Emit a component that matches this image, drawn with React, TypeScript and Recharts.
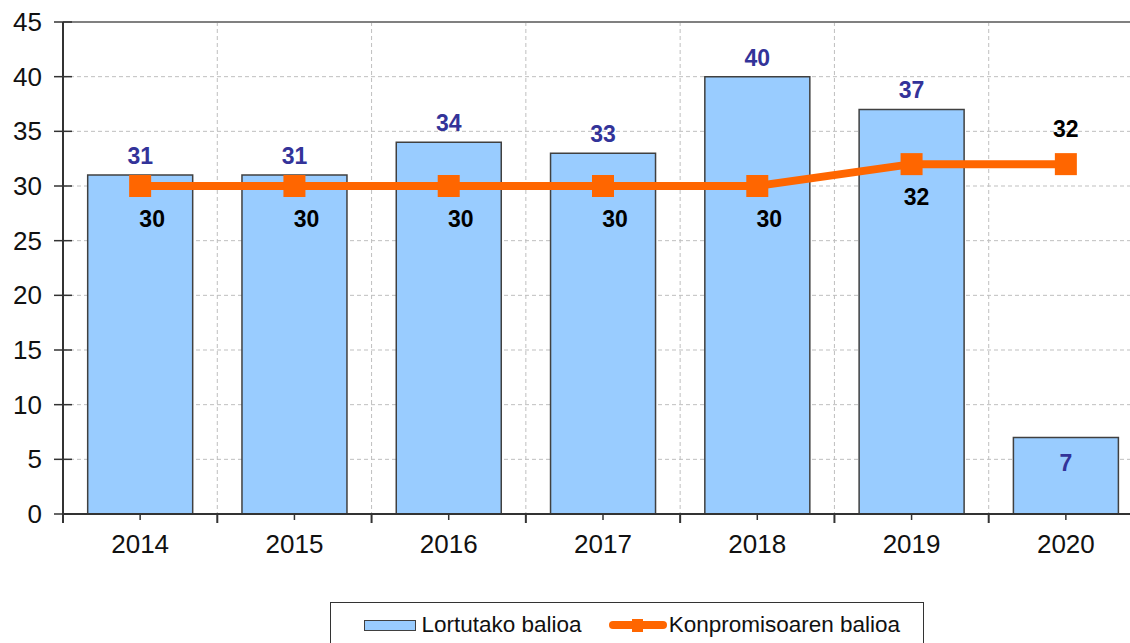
import React from "react";
import {
  ComposedChart,
  Bar,
  Line,
  XAxis,
  YAxis,
  CartesianGrid,
  LabelList,
  Legend,
  ReferenceLine,
} from "recharts";

const YEARS = ["2014", "2015", "2016", "2017", "2018", "2019", "2020"];
const ACHIEVED = [31, 31, 34, 33, 40, 37, 7];
const COMMITTED = [30, 30, 30, 30, 30, 32, 32];
const Y_TICKS = [0, 5, 10, 15, 20, 25, 30, 35, 40, 45];
const SERIES_NAMES = ["Lortutako balioa", "Konpromisoaren balioa"];

const data = YEARS.map((year, i) => ({
  year,
  lortutakoa: ACHIEVED[i],
  konpromisoa: COMMITTED[i],
}));

const ORANGE = "#FF6600";
const BLUE = "#99CCFF";
const AXIS = "#333333";
const FONT = "'Liberation Sans', Arial, sans-serif";

const YTick = ({ x, y, payload }: any) => (
  <g>
    <line x1={x - 9} x2={x + 9} y1={y} y2={y} stroke={AXIS} strokeWidth={1.5} />
    <text x={x - 21} y={y + 9} textAnchor="end" fontSize={26} fill="#111">
      {payload.value}
    </text>
  </g>
);

const XTick = ({ x, y, payload, index, visibleTicksCount }: any) => {
  const half = payload.offset ?? 0;
  return (
    <g>
      <line x1={x} x2={x} y1={y} y2={y + 6} stroke={AXIS} strokeWidth={1.5} />
      {half > 0 && (
        <line x1={x - half} x2={x - half} y1={y} y2={y + 9} stroke={AXIS} strokeWidth={2} />
      )}
      {half > 0 && index === visibleTicksCount - 1 && (
        <line x1={x + half} x2={x + half} y1={y} y2={y + 9} stroke={AXIS} strokeWidth={2} />
      )}
      <text x={x} y={y + 39} textAnchor="middle" fontSize={26} fill="#111">
        {payload.value}
      </text>
    </g>
  );
};

const BarValueLabel = ({ x, y, width, value, index }: any) => {
  // last bar is short, Excel put its label inside
  const inside = index === YEARS.length - 1;
  return (
    <text
      x={x + width / 2}
      y={inside ? y + 34 : y - 11}
      textAnchor="middle"
      fontSize={23}
      fontWeight="bold"
      fill="#333399"
    >
      {value}
    </text>
  );
};

const LineValueLabel = ({ x, y, value, index }: any) => {
  const above = index === YEARS.length - 1;
  const shift = index === YEARS.length - 2 ? 5 : 12;
  return (
    <text
      x={above ? x : x + shift}
      y={above ? y - 27 : y + 41}
      textAnchor="middle"
      fontSize={23}
      fontWeight="bold"
      fill="#000"
    >
      {value}
    </text>
  );
};

const SquareDot = ({ cx, cy, index }: any) => (
  <rect key={`dot-${index}`} x={cx - 11} y={cy - 11} width={22} height={22} fill={ORANGE} />
);

const LegendBox = () => (
  <div
    style={{
      boxSizing: "border-box",
      width: 594,
      height: 53,
      border: `1.5px solid ${AXIS}`,
      paddingTop: 9,
      paddingLeft: 32.5,
      background: "#fff",
    }}
  >
    <div style={{ display: "flex", alignItems: "center", height: 26, fontSize: 22.5, color: "#111" }}>
      <span
        style={{
          boxSizing: "border-box",
          width: 52,
          height: 11,
          background: BLUE,
          border: "1px solid #404040",
          marginRight: 6,
        }}
      />
      <span style={{ whiteSpace: "nowrap" }}>{SERIES_NAMES[0]}</span>
      <svg width={58} height={16} style={{ marginLeft: 27, marginRight: 2 }}>
        <line x1={4} x2={54} y1={8} y2={8} stroke={ORANGE} strokeWidth={8} strokeLinecap="round" />
        <rect x={23} y={2} width={11} height={13} fill={ORANGE} />
      </svg>
      <span style={{ whiteSpace: "nowrap" }}>{SERIES_NAMES[1]}</span>
    </div>
  </div>
);

export default function App() {
  return (
    <div
      style={{
        position: "fixed",
        left: 0,
        top: 0,
        width: 1130,
        height: 643,
        overflow: "hidden",
        background: "#fff",
        fontFamily: FONT,
      }}
    >
      <ComposedChart
        width={1150}
        height={655}
        data={data}
        margin={{ top: 22, right: 7, left: 0, bottom: 0 }}
        barCategoryGap="16%"
      >
        <CartesianGrid
          stroke="#bfbfbf"
          strokeDasharray="4 3"
          verticalCoordinatesGenerator={({ offset }: any) =>
            YEARS.map((_, i) => offset.left + (offset.width * (i + 1)) / YEARS.length)
          }
        />
        <XAxis
          dataKey="year"
          height={88}
          tick={<XTick />}
          tickLine={false}
          tickSize={0}
          tickMargin={0}
          interval={0}
          axisLine={{ stroke: AXIS, strokeWidth: 2 }}
        />
        <YAxis
          width={63}
          domain={[0, 45]}
          ticks={Y_TICKS}
          interval={0}
          tick={<YTick />}
          tickLine={false}
          tickSize={0}
          tickMargin={0}
          axisLine={{ stroke: AXIS, strokeWidth: 2 }}
        />
        <ReferenceLine y={45} stroke="#808080" strokeWidth={2} />
        <Bar
          dataKey="lortutakoa"
          name={SERIES_NAMES[0]}
          fill={BLUE}
          stroke="#404040"
          strokeWidth={1.5}
          isAnimationActive={false}
        >
          <LabelList dataKey="lortutakoa" content={<BarValueLabel />} />
        </Bar>
        <Line
          dataKey="konpromisoa"
          name={SERIES_NAMES[1]}
          type="linear"
          stroke={ORANGE}
          strokeWidth={8}
          dot={<SquareDot />}
          activeDot={false}
          isAnimationActive={false}
        >
          <LabelList dataKey="konpromisoa" content={<LineValueLabel />} />
        </Line>
        <Legend
          verticalAlign="bottom"
          height={53}
          content={() => <LegendBox />}
          wrapperStyle={{ left: 330, bottom: 0, width: 594, height: 53 }}
        />
      </ComposedChart>
    </div>
  );
}
